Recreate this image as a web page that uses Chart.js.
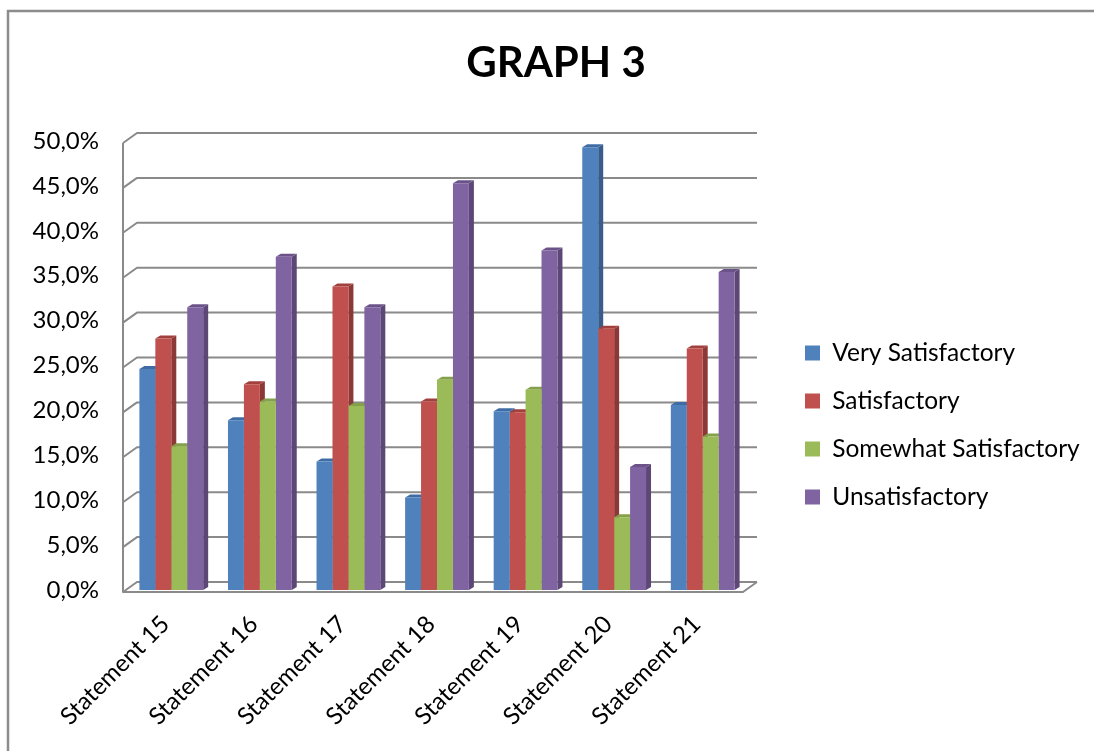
<!DOCTYPE html>
<html lang="en">
<head>
    <meta charset="UTF-8">
    <title>GRAPH 3</title>
    <script src="https://cdn.jsdelivr.net/npm/chart.js"></script>
    <style>
        body { margin: 0; background: #fff; }
    </style>
</head>
<body>
<div style="width:1094px;height:751px">
    <canvas id="myChart" width="1094" height="751"></canvas>
</div>
<script>
    // categories and series (percent)
    const statements = ['Statement 15', 'Statement 16', 'Statement 17', 'Statement 18', 'Statement 19', 'Statement 20', 'Statement 21']
    const verySatisfactory = [24.6, 18.9, 14.3, 10.3, 19.9, 49.3, 20.6]
    const satisfactory = [28.0, 22.9, 33.8, 21.0, 19.8, 29.1, 26.9]
    const somewhatSatisfactory = [16.0, 21.0, 20.5, 23.4, 22.3, 8.1, 17.1]
    const unsatisfactory = [31.5, 37.1, 31.5, 45.3, 37.8, 13.7, 35.4]
    const seriesNames = ['Very Satisfactory', 'Satisfactory', 'Somewhat Satisfactory', 'Unsatisfactory']

    const fronts = ['#4f81bd', '#c0504d', '#9bbb59', '#8064a2']
    const sides = ['#385d8a', '#8c3836', '#71893f', '#5c4776']
    const tops = ['#3f6ca4', '#a2403d', '#84a04a', '#6b5389']
    const FONT = 'Lato'
    const LEGEND_SIZE = 24.5

    // excel-like 3d: back wall, floor and bar sides drawn around the library's bars
    const frame3d = {
        id: 'frame3d',
        beforeLayout(chart) {
            const lg = chart.legend
            if (lg && !lg._fixed) {
                const fit = lg.fit
                lg.fit = function () { fit.call(this); this.width = 1094 - 747 }
                lg._fixed = true
            }
        },
        afterLayout(chart) {
            const lg = chart.legend
            const pad = lg.options.labels.padding
            lg.left = 805 - pad
            lg.right = 1094
            lg.width = lg.right - lg.left
            const h = lg.height
            lg.top = 353 - LEGEND_SIZE / 2 - pad
            lg.bottom = lg.top + h
            const t = chart.titleBlock
            t.left += 9
            t.right += 9
        },
        beforeDraw(chart) {
            const ctx = chart.ctx
            ctx.save()
            ctx.strokeStyle = '#8c8c8c'
            ctx.lineWidth = 2.5
            ctx.beginPath()
            ctx.moveTo(8, 751)
            ctx.lineTo(8, 11)
            ctx.lineTo(1094, 11)
            ctx.stroke()
            ctx.restore()
        },
        beforeDatasetsDraw(chart) {
            const ctx = chart.ctx
            const y = chart.scales.y
            const {left, right} = chart.chartArea
            ctx.save()
            ctx.strokeStyle = '#8a8a8a'
            ctx.lineWidth = 2
            ctx.lineJoin = 'round'
            y.ticks.forEach(t => {
                const py = y.getPixelForValue(t.value)
                ctx.beginPath()
                ctx.moveTo(left - 4, py + 2)
                ctx.lineTo(left + 10, py - 8)
                ctx.lineTo(right + 10, py - 8)
                ctx.stroke()
            })
            const y0 = y.getPixelForValue(0)
            const y50 = y.getPixelForValue(50)
            ctx.beginPath()
            ctx.moveTo(left - 4, y50 + 2)
            ctx.lineTo(left - 4, y0 + 2)
            ctx.lineTo(right - 4, y0 + 2)
            ctx.lineTo(right + 10, y0 - 8)
            ctx.stroke()

            chart.data.datasets.forEach((ds, i) => {
                chart.getDatasetMeta(i).data.forEach(bar => {
                    const p = bar.getProps(['x', 'y', 'base', 'width'], true)
                    const l = p.x - p.width / 2, r = p.x + p.width / 2
                    ctx.fillStyle = sides[i]
                    ctx.beginPath()
                    ctx.moveTo(r, p.y)
                    ctx.lineTo(r + 5, p.y - 3)
                    ctx.lineTo(r + 5, p.base - 3)
                    ctx.lineTo(r, p.base)
                    ctx.closePath()
                    ctx.fill()
                    ctx.fillStyle = tops[i]
                    ctx.beginPath()
                    ctx.moveTo(l, p.y)
                    ctx.lineTo(l + 5, p.y - 3)
                    ctx.lineTo(r + 5, p.y - 3)
                    ctx.lineTo(r, p.y)
                    ctx.closePath()
                    ctx.fill()
                })
            })
            ctx.restore()
        }
    }

    const seriesValues = [verySatisfactory, satisfactory, somewhatSatisfactory, unsatisfactory]
    const data = {
        labels: statements,
        datasets: seriesValues.map((vals, i) => ({
            label: seriesNames[i],
            data: vals,
            backgroundColor: fronts[i],
            borderWidth: 0,
            categoryPercentage: 0.72,
            barPercentage: 1.0
        }))
    }

    new Chart(document.getElementById('myChart'), {
        type: 'bar',
        data: data,
        plugins: [frame3d],
        options: {
            responsive: false,
            animation: false,
            layout: { padding: { left: 0, right: 0, top: 0, bottom: 0 } },
            plugins: {
                title: {
                    display: true,
                    text: 'GRAPH 3',
                    color: '#000',
                    font: { family: FONT, size: 42, weight: 'bold', lineHeight: 1.2 },
                    padding: { top: 38, bottom: 52.6 }
                },
                legend: {
                    position: 'right',
                    align: 'start',
                    labels: {
                        color: '#000',
                        font: { family: FONT, size: LEGEND_SIZE },
                        boxWidth: 15,
                        boxHeight: 15,
                        padding: 48 - LEGEND_SIZE
                    }
                },
                tooltip: { enabled: false }
            },
            scales: {
                x: {
                    grid: { display: false },
                    border: { display: false },
                    ticks: {
                        color: '#000',
                        font: { family: FONT, size: 24 },
                        minRotation: 45,
                        maxRotation: 45,
                        padding: 12,
                        labelOffset: -6
                    },
                    afterFit: s => { s.height = 751 - 590 }
                },
                y: {
                    min: 0,
                    max: 50,
                    grid: { display: false, drawTicks: false },
                    border: { display: false },
                    ticks: {
                        stepSize: 5,
                        color: '#000',
                        font: { family: FONT, size: 24 },
                        padding: 28,
                        callback: v => v.toFixed(1).replace('.', ',') + '%'
                    },
                    afterFit: s => { s.width = 127 }
                }
            }
        }
    })
</script>
</body>
</html>
